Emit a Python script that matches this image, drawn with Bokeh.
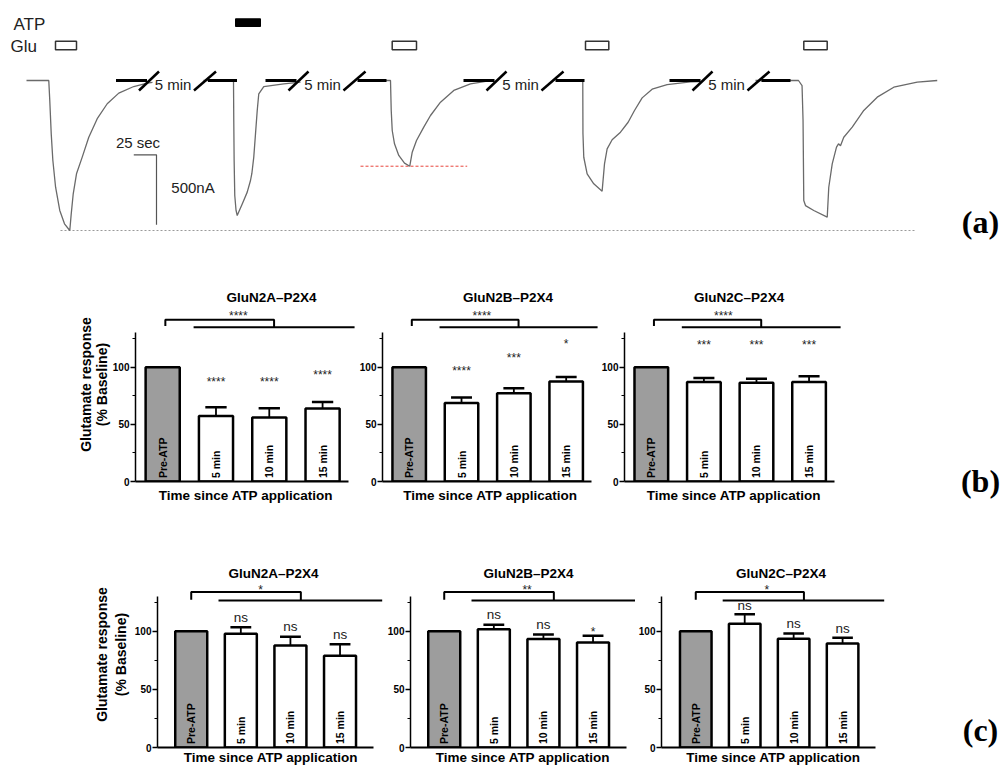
import math
from bokeh.plotting import figure
from bokeh.layouts import column, row
from bokeh.models import FixedTicker, Range1d
from bokeh.core.properties import value
from bokeh.embed import file_html
from bokeh.resources import INLINE

SANS = "Liberation Sans"
SERIF = "Liberation Serif"

# ---------------- (a) current traces: time (s) and current (nA) ----------------
sweep1_t = [0, 24.5, 25.6, 27.2, 29, 32, 36.6, 41.8, 47.6, 49.2, 51.4, 55, 61.3, 68.5, 77.8, 88.8, 101.5, 118, 132.8, 138.6]
sweep1_i = [0, 0, -143, -381, -571, -762, -928, -1023, -1071, -952, -809, -666, -547, -405, -273, -166, -90, -43, -19, -14]
sweep2_t = [0, 33, 33.3, 33.7, 34.4, 35.8, 37.1, 38.5, 42.6, 48.1, 51.7, 53.2, 55.3, 57.2, 59.1, 60.8, 66.3, 88.3, 106.7]
sweep2_i = [0, 0, -286, -571, -821, -928, -964, -943, -881, -797, -714, -664, -547, -381, -214, -95, -43, -24, -12]
sweep3_t = [0, 30.8, 31.6, 32.7, 35.2, 39.9, 46.2, 52, 54.7, 59.4, 67.4, 74.8, 85.8, 100.4, 118.8, 137.2]
sweep3_i = [0, 0, -214, -357, -452, -535, -590, -612, -512, -428, -333, -250, -155, -71, -24, -5]
sweep4_t = [0, 25.3, 25.5, 26.4, 30.1, 37.4, 46.6, 49.2, 52.1, 57.6, 66.8, 75.2, 82.2, 90.6, 101.6, 118.1, 143.8, 154.8]
sweep4_i = [0, 0, -378, -548, -666, -738, -790, -595, -488, -423, -369, -298, -214, -124, -62, -29, -10, -7]
sweep5_t = [0, 47.3, 51.2, 52.3, 52.8, 53.1, 55, 64.1, 78.9, 80.6, 84.4, 89.1, 91.3, 93.5, 97.1, 106.4, 119.1, 133.9, 152.1, 177.9, 199.9]
sweep5_i = [0, 0, -36, -286, -643, -857, -893, -928, -976, -762, -595, -476, -452, -466, -405, -333, -214, -119, -48, -12, 0]
sweeps_t = [sweep1_t, sweep2_t, sweep3_t, sweep4_t, sweep5_t]
sweeps_i = [sweep1_i, sweep2_i, sweep3_i, sweep4_i, sweep5_i]
sweep_offsets = [0, 194.7, 369.6, 586.6, 801.9]     # display start of each sweep (s)
gap_label = "5 min"
scale_t, scale_i = 25, 500                              # scale bar: 25 sec, 500 nA

# ---------------- (b), (c) bar charts ----------------
cats = ["Pre-ATP", "5 min", "10 min", "15 min"]
titles = ["GluN2A\u2013P2X4", "GluN2B\u2013P2X4", "GluN2C\u2013P2X4"]
b_means = [[100, 57.3, 56.0, 63.8], [100, 68.7, 77.2, 87.4], [100, 87.1, 86.3, 87.1]]
b_sem = [[0, 7.7, 8.0, 5.8], [0, 4.7, 4.4, 4.1], [0, 3.5, 3.7, 4.9]]
b_sig = [["****", "****", "****"], ["****", "***", "*"], ["***", "***", "***"]]
b_overall = ["****", "****", "****"]
c_means = [[100, 97.8, 87.7, 78.8], [100, 101.6, 93.2, 90.3], [100, 106.5, 93.5, 89.5]]
c_sem = [[0, 5.7, 7.5, 10.0], [0, 3.9, 4.0, 5.7], [0, 8.0, 4.5, 4.9]]
c_sig = [["ns", "ns", "ns"], ["ns", "ns", "*"], ["ns", "ns", "ns"]]
c_overall = ["*", "**", "*"]
y_label = "Glutamate response\n(% Baseline)"
x_label = "Time since ATP application"
panel_letters = ["(a)", "(b)", "(c)"]

# ================= panel (a) =================
MAIN_W, TOTAL_W = 945, 1000
A_H = 278


def X(px):
    return (px - 26) * 1.1


def Y(py):
    return (80 - py) * 7.14


fa = figure(width=MAIN_W, height=A_H, x_range=Range1d(X(0), X(MAIN_W)), y_range=Range1d(Y(A_H), Y(0)),
            output_backend="svg", toolbar_location=None, min_border=0,
            min_border_left=0, min_border_right=0, min_border_top=0, min_border_bottom=0)
fa.axis.visible = False
fa.grid.visible = False
fa.outline_line_color = None

# reference lines
fa.line([X(60), X(915)], [min(sweep1_i)] * 2, line_color="#9a9a9a", line_width=1, line_dash="2 2")
fa.line([X(360), X(466.7)], [min(sweep3_i)] * 2, line_color="#e8453c", line_width=1, line_dash="3 2")

for ts, cs, off in zip(sweeps_t, sweeps_i, sweep_offsets):
    fa.line([off + t for t in ts], cs, line_color="#6a6a6a", line_width=1.3)

# breaks between sweeps
for c in [172.5, 322, 520, 726]:
    fa.segment([X(c - 57), X(c + 35)], [0, 0], [X(c - 26), X(c + 64)], [0, 0], line_color="black", line_width=3)
    fa.segment([X(c - 34), X(c + 21)], [Y(90), Y(90)], [X(c - 14), X(c + 43)], [Y(71), Y(71)],
               line_color="black", line_width=2.5)
    fa.text([X(c)], [Y(84)], text=[gap_label], text_font=value(SANS), text_font_size="15px",
            text_align="center", text_baseline="middle", text_color="#222222")

# stimulus bars
glu_px = [(55, 76), (391.7, 416), (585, 608.3), (803.3, 826.7)]
fa.quad(left=[X(a) for a, b in glu_px], right=[X(b) for a, b in glu_px], top=Y(40.7), bottom=Y(49.3),
        fill_color="white", line_color="#333333", line_width=1.5)
fa.quad(left=[X(235)], right=[X(260)], top=Y(18.3), bottom=Y(26), fill_color="black", line_color="black")
fa.text([X(13), X(10)], [Y(24), Y(46)], text=["ATP", "Glu"], text_font=value(SANS), text_font_size="17px",
        text_align="left", text_baseline="middle", text_color="#222222")

# scale bar
sx, sy = X(156), Y(154.3)
fa.line([sx - scale_t, sx, sx], [sy, sy, sy - scale_i], line_color="#555555", line_width=1.2)
fa.text([X(137.5), X(192.5)], [Y(141.7), Y(186.7)], text=["25 sec", "500nA"], text_font=value(SANS),
        text_font_size="15px", text_align="center", text_baseline="middle", text_color="#222222")

# ================= bar panels =================
GRAY = "#9d9d9d"


def bar_panel(means, sem, sig, sig_y, overall, overall_x, overall_y, title, title_x, title_y,
              x_start, frame_w, ppu, frame_h, y_top, lb, rb, tb, bb, x_axis_end, bracket,
              bar_w, cap, ylab, xlab_standoff):
    p = figure(width=lb + frame_w + rb, height=tb + frame_h + bb,
               x_range=Range1d(x_start, x_start + frame_w / ppu), y_range=Range1d(0, y_top),
               output_backend="svg", toolbar_location=None,
               min_border_left=lb, min_border_right=rb, min_border_top=tb, min_border_bottom=bb)
    p.grid.visible = False
    p.outline_line_color = None
    xs = [1, 2, 3, 4]
    p.vbar(x=xs, top=means, width=bar_w, bottom=0,
           fill_color=[GRAY, "white", "white", "white"], line_color="black", line_width=2.5)
    ex = xs[1:]
    ey0 = means[1:]
    ey1 = [m + s for m, s in zip(means[1:], sem[1:])]
    p.segment(ex, ey0, ex, ey1, line_color="black", line_width=1.8)
    p.segment([x - cap for x in ex], ey1, [x + cap for x in ex], ey1, line_color="black", line_width=2.5)
    # in-bar labels
    p.text(xs, [3] * 4, text=cats, angle=math.pi / 2, text_font=value(SANS), text_font_style="bold",
           text_font_size="10.5px", text_align="left", text_baseline="middle", text_color="black")
    # significance labels
    for x, y, s in zip(ex, sig_y, sig):
        p.text([x], [y], text=[s], text_font=value(SANS),
               text_font_size="13.5px" if s == "ns" else "12px",
               text_align="center", text_baseline="middle", text_color="#222222")
    # comparison bracket
    L, R, S, E, yt, ytip, yl = bracket
    p.line([L, L, R, R], [ytip, yt, yt, yl], line_color="black", line_width=2)
    p.line([S, E], [yl, yl], line_color="black", line_width=2)
    p.text([overall_x], [overall_y], text=[overall], text_font=value(SANS), text_font_size="12px",
           text_align="center", text_baseline="middle", text_color="#222222")
    p.text([title_x], [title_y], text=[title], text_font=value(SANS), text_font_style="bold",
           text_font_size="13.5px", text_align="center", text_baseline="middle", text_color="black")
    # axes
    ya = p.yaxis[0]
    ya.ticker = FixedTicker(ticks=[0, 50, 100], minor_ticks=[25, 75, 125])
    ya.bounds = (0, 130)
    ya.axis_line_width = 1.5
    ya.major_tick_line_width = 1.5
    ya.minor_tick_line_width = 1.2
    ya.major_tick_out = 5
    ya.major_tick_in = 0
    ya.minor_tick_out = 3
    ya.minor_tick_in = 0
    ya.major_label_standoff = 1
    ya.major_label_text_font = SANS
    ya.major_label_text_font_style = "bold"
    ya.major_label_text_font_size = "10px"
    ya.major_label_text_color = "black"
    if ylab is not None:
        standoff, lh = ylab
        ya.axis_label = y_label
        ya.axis_label_text_font = SANS
        ya.axis_label_text_font_style = "bold"
        ya.axis_label_text_font_size = "14px"
        ya.axis_label_text_line_height = lh
        ya.axis_label_standoff = standoff
        ya.axis_label_text_color = "black"
    xa = p.xaxis[0]
    xa.ticker = FixedTicker(ticks=[])
    xa.bounds = (x_start, x_axis_end)
    xa.axis_line_width = 2
    xa.major_tick_out = 0
    xa.major_tick_in = 0
    xa.minor_tick_out = 0
    xa.minor_tick_in = 0
    xa.major_label_standoff = 0
    xa.axis_label = x_label
    xa.axis_label_text_font = SANS
    xa.axis_label_text_font_style = "bold"
    xa.axis_label_text_font_size = "13.5px"
    xa.axis_label_standoff = xlab_standoff
    xa.axis_label_text_color = "black"
    return p


# row (b) layout (pixels)
B_TOP, B_FH, B_BOT = 9, 194, 40
b_ppu = 53.3
b_ytop = B_FH / 1.143
b_x_start = [0.49, 0.49, 0.49]
b_frame_w = [221, 220, 222]
b_left = [135, 22, 23]
b_title_x = [3.04, 2.89, 2.67]
b_overall_x = [2.42, 2.39, 2.37]
b_sig_y = [[87, 87, 93.5], [96.5, 108, 120.3], [119.5, 119.5, 119.5]]
b_right = [0, 0, MAIN_W - (sum(b_left) + sum(b_frame_w))]
b_figs = []
for k in range(3):
    b_figs.append(bar_panel(b_means[k], b_sem[k], b_sig[k], b_sig_y[k], b_overall[k], b_overall_x[k], 144.5,
                            titles[k], b_title_x[k], 161, b_x_start[k], b_frame_w[k], b_ppu, B_FH, b_ytop,
                            b_left[k], b_right[k], B_TOP, B_BOT, 4.49, (1.05, 3.09, 1.58, 4.6, 141.5, 136, 135),
                            0.64, 0.2, (0, 1.0) if k == 0 else None, 6))

# row (c) layout (pixels)
C_TOP, C_FH, C_BOT = 40, 186, 20
c_ppu = 49.6
c_ytop = C_FH / 1.163
c_x_start = [0.32, 0.32, 0.30]
c_frame_w = [227, 225, 227]
c_left = [157, 26, 23]
c_title_x = [2.66, 2.70, 2.74]
c_overall_x = [2.40, 2.67, 2.45]
c_sig_y = [[112, 104, 97], [114, 105.8, 99], [122, 106.7, 102.4]]
c_right = [0, 0, MAIN_W - (sum(c_left) + sum(c_frame_w))]
c_figs = []
for k in range(3):
    c_figs.append(bar_panel(c_means[k], c_sem[k], c_sig[k], c_sig_y[k], c_overall[k], c_overall_x[k], 135.6,
                            titles[k], c_title_x[k], 150, c_x_start[k], c_frame_w[k], c_ppu, C_FH, c_ytop,
                            c_left[k], c_right[k], C_TOP, C_BOT, 4.68, (1.0, 3.21, 1.55, 4.85, 133.8, 127, 126.4),
                            0.645, 0.21, (3, 1.2) if k == 0 else None, 2))

# ---- panel letters in a narrow column on the right ----
TOTAL_H = A_H + B_TOP + B_FH + B_BOT + C_TOP + C_FH + C_BOT
LW = TOTAL_W - MAIN_W
fl = figure(width=LW, height=TOTAL_H, x_range=Range1d(MAIN_W, TOTAL_W), y_range=Range1d(-TOTAL_H, 0),
            output_backend="svg", toolbar_location=None, min_border=0,
            min_border_left=0, min_border_right=0, min_border_top=0, min_border_bottom=0)
fl.axis.visible = False
fl.grid.visible = False
fl.outline_line_color = None
fl.text([980, 980, 980], [-221, -480, -729], text=panel_letters, text_font=value(SERIF),
        text_font_style="bold", text_font_size="32px", text_align="center", text_baseline="middle",
        text_color="black")

main = column(fa, row(*b_figs, spacing=0), row(*c_figs, spacing=0), spacing=0)
layout = row(main, fl, spacing=0)
open("out.html", "w").write(file_html(layout, INLINE))
